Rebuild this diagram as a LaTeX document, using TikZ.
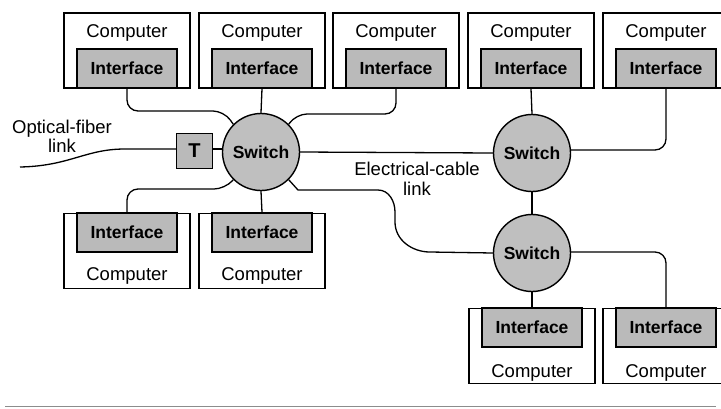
\documentclass[tikz,border=0pt]{standalone}
\usepackage{fontspec}
\setmainfont{Liberation Sans}
\begin{document}
\begin{tikzpicture}[x=1pt,y=-1pt,
  compbox/.style={draw, line width=1.4pt, minimum width=126pt, minimum height=75pt, inner sep=0pt, fill=white},
  iface/.style={draw, line width=1.4pt, fill=black!27, minimum width=100pt, minimum height=39pt, inner sep=0pt, font=\fontsize{17.5}{20}\selectfont\bfseries},
  ctext/.style={font=\fontsize{18.5}{20}\selectfont, inner sep=0pt, anchor=base},
  switchnode/.style={circle, draw, line width=1.4pt, fill=black!25, minimum size=77pt, inner sep=0pt, font=\fontsize{17.5}{20}\selectfont\bfseries},
  tbox/.style={draw, line width=1.4pt, fill=black!27, minimum width=36pt, minimum height=35pt, inner sep=0pt, font=\fontsize{20}{22}\selectfont\bfseries},
  wire/.style={line width=1.3pt, rounded corners=11pt},
  lbl/.style={font=\fontsize{18.5}{20}\selectfont, inner sep=0pt, anchor=base}
]
\useasboundingbox (0,0) rectangle (721,408);

% top row computers
\foreach \n/\x in {1/127,2/262,3/396,4/531,5/666}{
  \node[compbox] (c\n) at (\x,50.5) {};
  \node[iface] (i\n) at (\x,68.5) {Interface};
  \node[ctext] (t\n) at (\x,37) {Computer};
}
% lower-left computers
\foreach \n/\x in {6/127,7/262}{
  \node[compbox] (c\n) at (\x,251) {};
  \node[iface] (i\n) at (\x,232.5) {Interface};
  \node[ctext] (t\n) at (\x,280) {Computer};
}
% lower-right computers
\foreach \n/\x in {8/532,9/666}{
  \node[compbox] (c\n) at (\x,346) {};
  \node[iface] (i\n) at (\x,327.5) {Interface};
  \node[ctext] (t\n) at (\x,377) {Computer};
}

% switches
\node[switchnode] (s1) at (261,152) {Switch};
\node[switchnode] (s2) at (532,153) {Switch};
\node[switchnode] (s3) at (532,253) {Switch};
\node[tbox] (T) at (194.5,151) {T};

% fiber link
\coordinate (fib) at (20,167);
\draw[line width=1.3pt] (fib) .. controls (70,166) and (85,149) .. (125,149) -- (T.west |- 0,149);
\draw[line width=1.3pt] (T.east |- 0,149) -- (s1.west |- 0,149);

% connectors around switch 1
\draw[wire] (i1.south) |- (224,111) -- (s1.135);
\draw[wire] (i2.south) -- (s1.north);
\draw[wire] (i3.south) |- (296,114) -- (s1.45);
\draw[wire] (s1.225) -- (225,189) -| (i6.north);
\draw[wire] (s1.south) -- (i7.north);
\draw[wire] (s1.east) -- (s2.west);
\draw[line width=1.3pt] (s1.-45) -- (298,190) -- (378,190)
   to[out=0,in=90] (395,212) -- (395,222)
   to[out=-90,in=180] (430,252) -- (s3.west);

% switch 2
\draw[wire] (i4.south) -- (s2.north);
\draw[wire] (s2.east |- 0,150) -| (i5.south);
\draw[wire] (s2.south) -- (s3.north);

% switch 3
\draw[wire] (s3.south) -- (i8.north);
\draw[wire] (s3.east |- 0,252) -| (i9.north);

% labels
\node[lbl] (lf1) at (62,133) {Optical-fiber};
\node[lbl] (lf2) at (62,152) {link};
\node[lbl] (le1) at (417,175) {Electrical-cable};
\node[lbl] (le2) at (417,195) {link};

% bottom rule
\draw[black!45, line width=1pt] (5,406) -- (716,406);
\end{tikzpicture}
\end{document}
